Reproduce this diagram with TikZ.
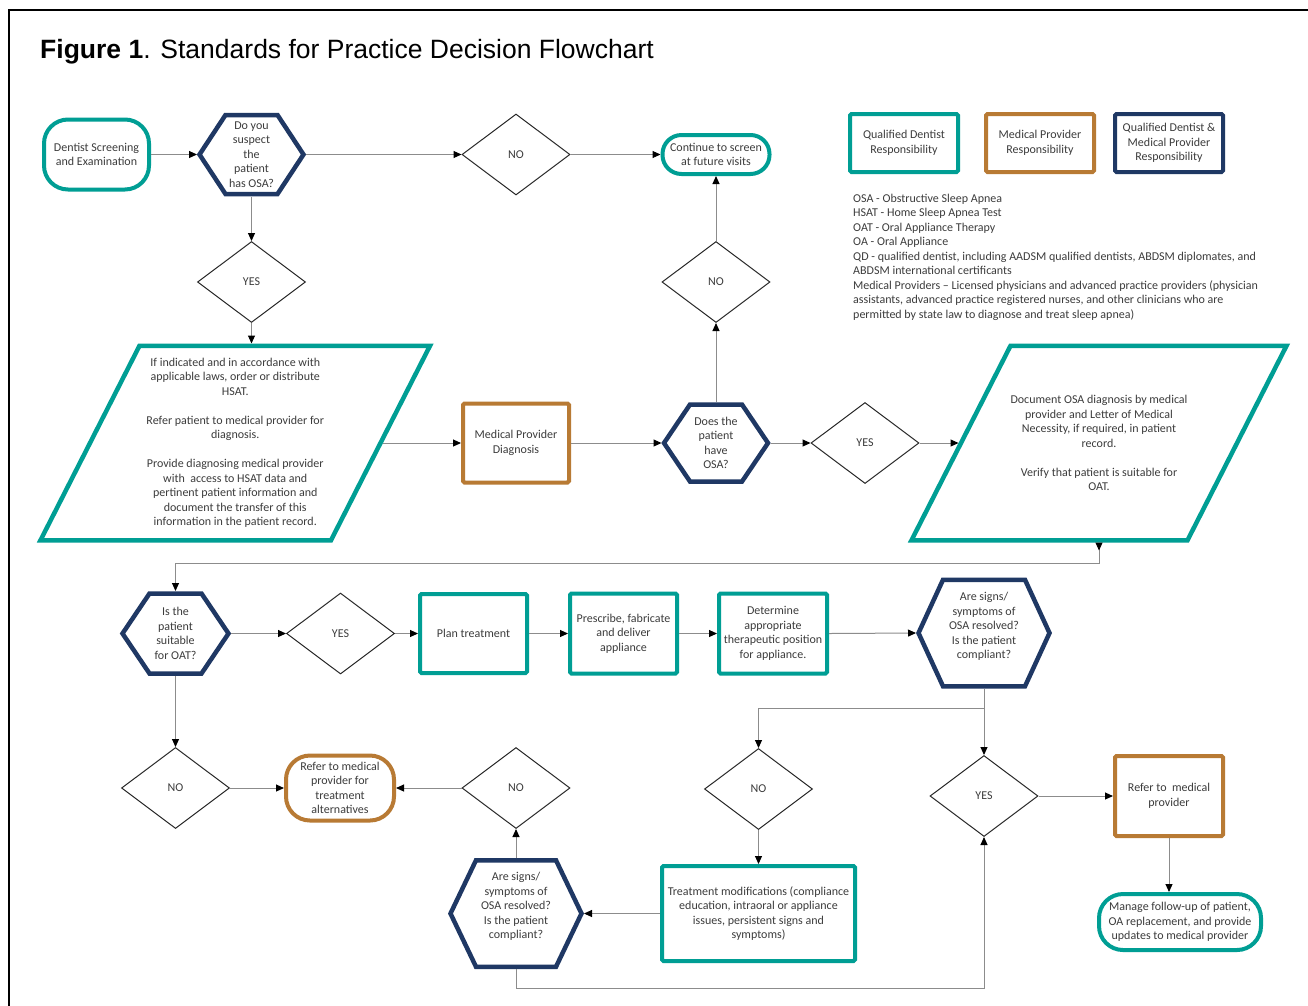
\documentclass[tikz,border=0pt]{standalone}
\usepackage{fontspec}
\setmainfont{Carlito}
\newfontfamily\titlefont{Liberation Sans}
\usetikzlibrary{shapes.geometric,arrows.meta,calc}
\definecolor{qdteal}{RGB}{0,158,148}
\definecolor{mporange}{RGB}{184,122,52}
\definecolor{bothnavy}{RGB}{31,56,100}
\definecolor{conngrey}{RGB}{140,140,140}
\definecolor{diagline}{RGB}{40,40,40}
\definecolor{textgrey}{RGB}{60,60,60}
\tikzset{
  txt/.style={font=\fontsize{12}{14.5}\selectfont, text=textgrey, align=center, inner sep=0pt},
  procbox/.style={txt, rectangle, draw=#1, line width=4pt, rounded corners=1.5pt},
  termbox/.style={txt, rectangle, draw=#1, line width=4pt},
  decision/.style={txt, diamond, draw=diagline, line width=1pt, minimum width=108pt, minimum height=81pt},
  hexnode/.style={txt, rectangle, draw=none, outer sep=0pt},
  hexline/.style={draw=bothnavy, line width=4.5pt, line join=miter},
  paraline/.style={draw=qdteal, line width=4.5pt, line join=miter},
  conn/.style={draw=conngrey, line width=1pt, -{Triangle[width=7pt,length=8pt,color=black,fill=black]}},
}
\newcommand\hexagonat[4]{\draw[hexline] ($(#1)+(-#2,0)$) -- ($(#1)+(-#4,-#3)$) -- ($(#1)+(#4,-#3)$) -- ($(#1)+(#2,0)$) -- ($(#1)+(#4,#3)$) -- ($(#1)+(-#4,#3)$) -- cycle;}
\newcommand\paraat[4]{\draw[paraline] ($(#1)+(-#2+#4,-#3)$) -- ($(#1)+(#2+#4,-#3)$) -- ($(#1)+(#2-#4,#3)$) -- ($(#1)+(-#2-#4,#3)$) -- cycle;}
\begin{document}
\begin{tikzpicture}[x=1pt,y=-1pt]
\useasboundingbox (0,0) rectangle (1308,1005);
\fill[white] (0,0) rectangle (1308,1005);
\draw[line width=2pt] (9,1020) -- (9,10) -- (1320,10);
\node[anchor=base west, font=\titlefont\fontsize{26.5}{32}\selectfont, inner sep=0pt] (title) at (40,58) {\textbf{Figure 1}. Standards for Practice Decision Flowchart};

% legend
\node[procbox=qdteal, minimum width=108pt, minimum height=58pt] (lq) at (904,143) {\raisebox{-1.5pt}{\begin{tabular}{@{}c@{}}Qualified Dentist\\Responsibility\end{tabular}}};
\node[procbox=mporange, minimum width=108pt, minimum height=58pt] (lm) at (1040,143) {\raisebox{-1.5pt}{\begin{tabular}{@{}c@{}}Medical Provider\\Responsibility\end{tabular}}};
\node[procbox=bothnavy, minimum width=108pt, minimum height=58pt] (lb) at (1169,143) {Qualified Dentist \&\\Medical Provider\\Responsibility};
\node[txt, align=left, anchor=west] (abbr) at (853,257) {OSA - Obstructive Sleep Apnea\\HSAT - Home Sleep Apnea Test\\OAT - Oral Appliance Therapy\\OA - Oral Appliance\\QD - qualified dentist, including AADSM qualified dentists, ABDSM diplomates, and\\ABDSM international certificants\\Medical Providers – Licensed physicians and advanced practice providers (physician\\assistants, advanced practice registered nurses, and other clinicians who are\\permitted by state law to diagnose and treat sleep apnea)};

% row 1
\node[termbox=qdteal, rounded corners=24pt, minimum width=105pt, minimum height=70pt] (start) at (96.5,154.5) {Dentist Screening\\and Examination};
\node[hexnode, minimum width=109pt, minimum height=84pt] (h1) at (251.5,154.5) {Do you\\suspect\\the\\patient\\has OSA?};
\hexagonat{h1}{52}{39.5}{26}
\node[decision] (no1) at (516,154.5) {NO};
\node[termbox=qdteal, rounded corners=19pt, minimum width=107pt, minimum height=39pt] (cont) at (716,154.5) {Continue to screen\\at future visits};

% row 2
\node[decision] (yes1) at (251.5,282) {YES};
\node[decision] (no2) at (716,282) {NO};

% row 3
\node[hexnode, minimum width=295.5pt, minimum height=199pt] (p1) at (235.25,443) {If indicated and in accordance with\\applicable laws, order or distribute\\HSAT.\\[14.5pt]Refer patient to medical provider for\\diagnosis.\\[14.5pt]Provide diagnosing medical provider\\with\ \ access to HSAT data and\\pertinent patient information and\\document the transfer of this\\information in the patient record.};
\paraat{p1}{145.25}{97.25}{49.5}
\node[procbox=mporange, minimum width=106pt, minimum height=79pt] (mpd) at (516,443) {Medical Provider\\Diagnosis};
\node[hexnode, minimum width=109pt, minimum height=82pt] (h2) at (716,443) {Does the\\patient\\have\\OSA?};
\hexagonat{h2}{52}{38.5}{26}
\node[decision] (yes2) at (865,443) {YES};
\node[hexnode, minimum width=281pt, minimum height=199pt] (p2) at (1099,443) {Document OSA diagnosis by medical\\provider and Letter of Medical\\Necessity, if required, in patient\\record.\\[14.5pt]Verify that patient is suitable for\\OAT.};
\paraat{p2}{138}{97.25}{49.5}

% row 4
\node[hexnode, minimum width=111pt, minimum height=85pt] (h3) at (175.5,633.5) {Is the\\patient\\suitable\\for OAT?};
\hexagonat{h3}{53}{40}{26}
\node[decision] (yes3) at (340.5,633.5) {YES};
\node[procbox=qdteal, minimum width=107pt, minimum height=79pt] (plan) at (473.5,633.5) {Plan treatment};
\node[procbox=qdteal, minimum width=107pt, minimum height=80pt] (presc) at (623.5,633.5) {Prescribe, fabricate\\and deliver\\appliance};
\node[procbox=qdteal, minimum width=108pt, minimum height=80pt] (deter) at (773,633.5) {Determine\\appropriate\\therapeutic position\\for appliance.};
\node[hexnode, minimum width=136pt, minimum height=111pt] (h4) at (984,633) {};
\hexagonat{h4}{65.5}{53.25}{41}
\node[txt] (h4t) at (984,626.5) {Are signs/\\symptoms of\\OSA resolved?\\Is the patient\\compliant?};

% row 5
\node[decision] (no3) at (175.5,788) {NO};
\node[termbox=mporange, rounded corners=24pt, minimum width=108pt, minimum height=65pt] (refalt) at (340,788) {Refer to medical\\provider for\\treatment\\alternatives};
\node[decision] (no4) at (516,788) {NO};
\node[decision] (no5) at (758.5,789) {NO};
\node[decision] (yes4) at (984,796) {YES};
\node[procbox=mporange, minimum width=108pt, minimum height=80pt] (refer) at (1169,796) {Refer to\ \ medical\\provider};
\coordinate (j1) at (984,708);

% row 6
\node[hexnode, minimum width=136pt, minimum height=111pt] (h5) at (516,913.5) {};
\hexagonat{h5}{65.5}{53.25}{40}
\node[txt] (h5t) at (516,906.5) {Are signs/\\symptoms of\\OSA resolved?\\Is the patient\\compliant?};
\node[procbox=qdteal, minimum width=193pt, minimum height=95pt] (treat) at (758.5,913.5) {Treatment modifications (compliance\\education, intraoral or appliance\\issues, persistent signs and\\symptoms)};
\node[termbox=qdteal, rounded corners=24pt, minimum width=162pt, minimum height=56pt] (manage) at (1180,922) {Manage follow-up of patient,\\OA replacement, and provide\\updates to medical provider};

% connectors
\draw[conn] (start.east) -- (h1.west);
\draw[conn] (h1.east) -- (no1.west);
\draw[conn] (no1.east) -- (cont.west);
\draw[conn] (h1.south) -- (yes1.north);
\draw[conn] (yes1.south) -- (yes1.south |- p1.north);
\draw[conn] (p1.east) -- (mpd.west);
\draw[conn] (mpd.east) -- (h2.west);
\draw[conn] (h2.north) -- (no2.south);
\draw[conn] (no2.north) -- (cont.south);
\draw[conn] (h2.east) -- (yes2.west);
\draw[conn] (yes2.east) -- (p2.west);
\draw[conn, {Triangle[width=7pt,length=8pt,color=black,fill=black,reversed]}-{Triangle[width=7pt,length=8pt,color=black,fill=black]}] (p2.south) -- ++(0,21) -| (h3.north);
\draw[conn] (h3.east) -- (yes3.west);
\draw[conn] (yes3.east) -- (plan.west);
\draw[conn] (plan.east) -- (presc.west);
\draw[conn] (presc.east) -- (deter.west);
\draw[conn] (deter.east) -- (h4.west);
\draw[conn] (h4.south) -- (j1) -| (no5.north);
\draw[conn] (j1) -- (yes4.north);
\draw[conn] (no5.south) -- (treat.north);
\draw[conn] (treat.west) -- (h5.east);
\draw[conn] (h5.south) -- ++(0,19.5) -| (yes4.south);
\draw[conn] (h5.north) -- (no4.south);
\draw[conn] (no4.west) -- (refalt.east);
\draw[conn] (no3.east) -- (refalt.west);
\draw[conn] (h3.south) -- (no3.north);
\draw[conn] (yes4.east) -- (refer.west);
\draw[conn] (refer.south) -- (refer.south |- manage.north);
\end{tikzpicture}
\end{document}
